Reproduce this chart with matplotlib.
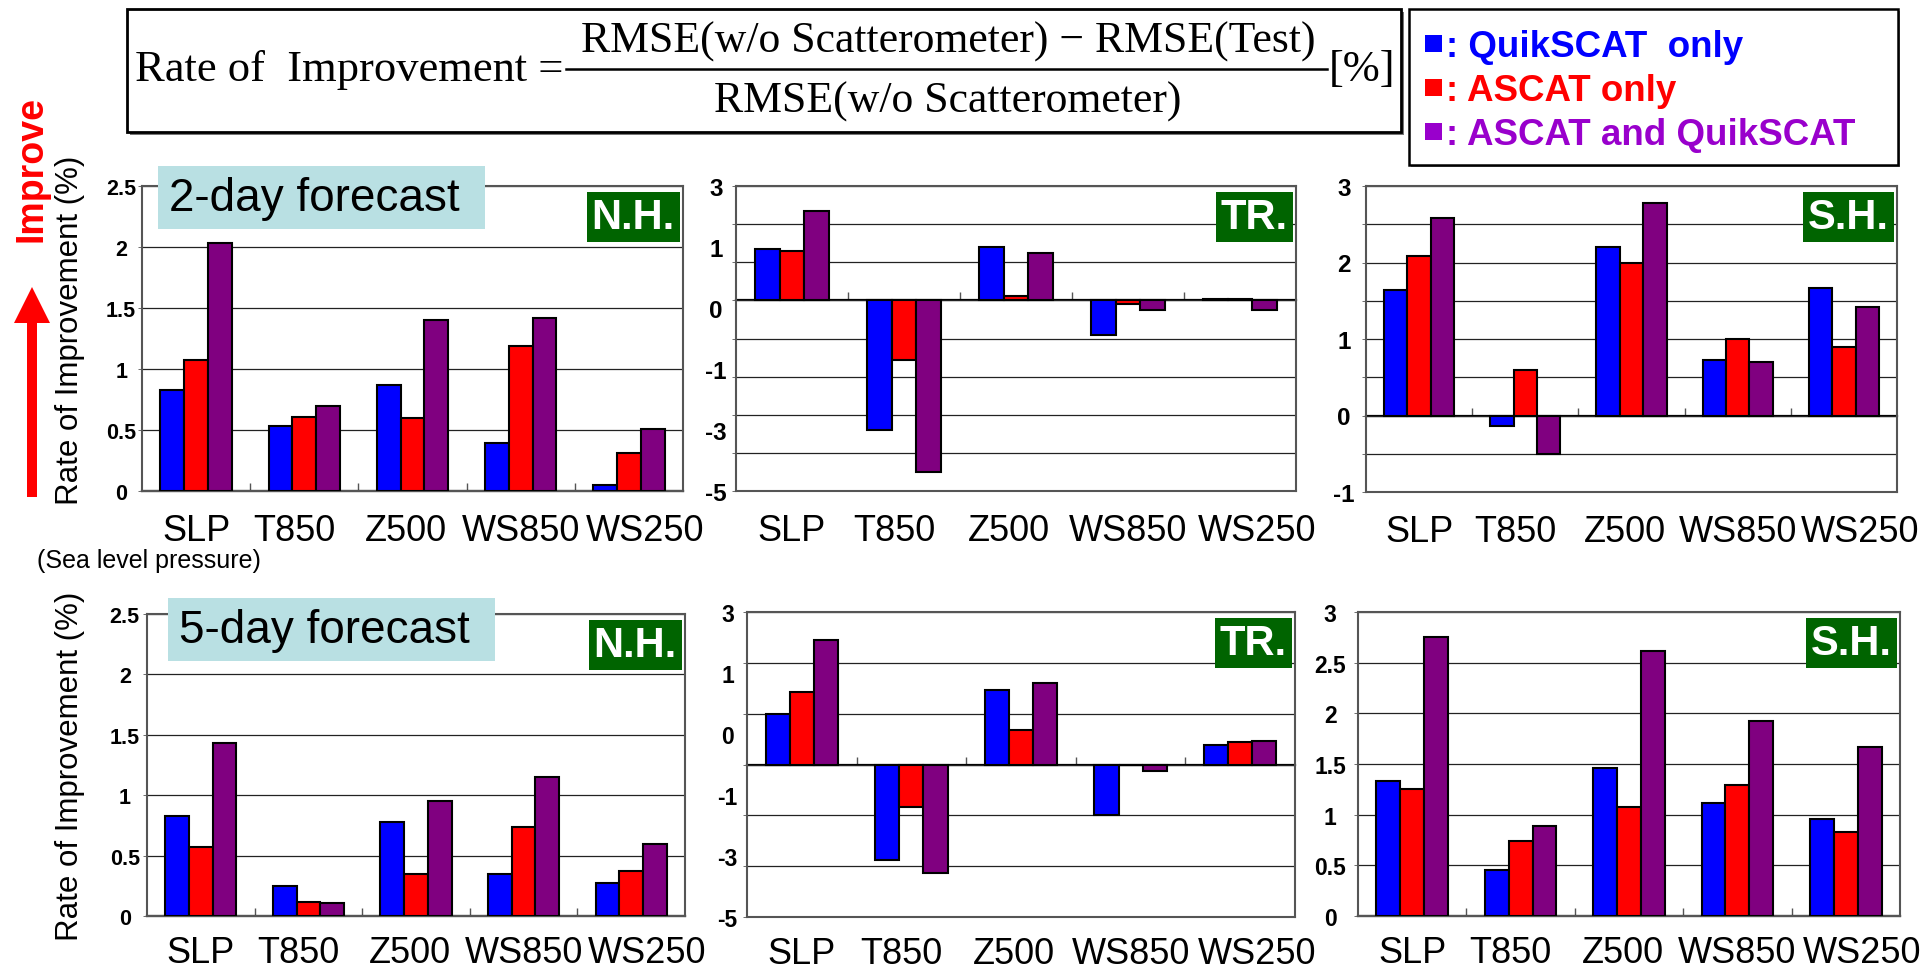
import matplotlib
matplotlib.use('Agg')
import matplotlib.pyplot as plt
from matplotlib.patches import Rectangle, FancyArrow
import numpy as np

plt.rcParams['font.family'] = ['Liberation Sans', 'DejaVu Sans']

categories = ['SLP', 'T850', 'Z500', 'WS850', 'WS250']
series_names = ['QuikSCAT  only', 'ASCAT only', 'ASCAT and QuikSCAT']
bar_colors = ['#0000ff', '#ff0000', '#800080']
legend_colors = ['#0000ff', '#ff0000', '#9900cc']

# 2-day forecast (QuikSCAT only, ASCAT only, ASCAT and QuikSCAT)
nh2_quik = [0.83, 0.53, 0.87, 0.39, 0.05]
nh2_ascat = [1.07, 0.61, 0.60, 1.19, 0.31]
nh2_both = [2.03, 0.70, 1.40, 1.42, 0.51]
tr2_quik = [0.67, -1.70, 0.70, -0.45, 0.02]
tr2_ascat = [0.65, -0.78, 0.06, -0.05, 0.02]
tr2_both = [1.17, -2.25, 0.62, -0.12, -0.12]
sh2_quik = [1.64, -0.14, 2.20, 0.73, 1.67]
sh2_ascat = [2.09, 0.59, 2.00, 1.00, 0.89]
sh2_both = [2.58, -0.50, 2.78, 0.70, 1.42]

# 5-day forecast
nh5_quik = [0.83, 0.25, 0.78, 0.35, 0.27]
nh5_ascat = [0.57, 0.12, 0.35, 0.74, 0.37]
nh5_both = [1.43, 0.11, 0.95, 1.15, 0.60]
tr5_quik = [0.50, -0.94, 0.73, -0.50, 0.19]
tr5_ascat = [0.71, -0.42, 0.34, 0.0, 0.22]
tr5_both = [1.22, -1.07, 0.80, -0.06, 0.23]
sh5_quik = [1.33, 0.45, 1.46, 1.12, 0.96]
sh5_ascat = [1.25, 0.74, 1.08, 1.29, 0.83]
sh5_both = [2.75, 0.89, 2.62, 1.92, 1.67]

# tick labels as printed in the figure
nh_ticks = [0, 0.5, 1, 1.5, 2, 2.5]
nh_labels = ['0', '0.5', '1', '1.5', '2', '2.5']
tr_labels = ['3', '1', '0', '-1', '-3', '-5']
tr2_ticks = [1.5, 0.7, -0.1, -0.9, -1.7, -2.5]
tr5_ticks = [1.5, 0.9, 0.3, -0.3, -0.9, -1.5]
sh2_ticks = [-1, 0, 1, 2, 3]
sh2_labels = ['-1', '0', '1', '2', '3']
sh5_ticks = [0, 0.5, 1, 1.5, 2, 2.5, 3]
sh5_labels = ['0', '0.5', '1', '1.5', '2', '2.5', '3']

# category labels are nudged a little, as in the original layout
label_shift = [0.0, -0.09, -0.06, 0.0, 0.15]

W, H = 1930, 970
fig = plt.figure(figsize=(W / 100, H / 100), dpi=100)


def add_panel(box):
    l, t, r, b = box
    return fig.add_axes([l / W, 1 - b / H, (r - l) / W, (b - t) / H])


def draw_panel(ax, values, ylim, step, tick_pos, tick_labels, region, tick_size, lab_pad, x_pad):
    x = np.arange(len(categories))
    w = 0.22
    for i, vals in enumerate(values):
        ax.bar(x + (i - 1) * w, vals, width=w, color=bar_colors[i],
               edgecolor='black', linewidth=1.5, zorder=3)
    ax.set_xlim(-0.5, len(categories) - 0.5)
    ax.set_ylim(*ylim)

    # printed labels on major ticks, gridlines on minor ticks
    ax.yaxis.remove_overlapping_locs = False
    ax.set_yticks(tick_pos, labels=tick_labels, fontweight='bold', fontsize=tick_size,
                  ha='center')
    ax.tick_params(axis='y', which='major', length=0, pad=lab_pad)
    ax.set_yticks(np.arange(ylim[0], ylim[1] + step / 2, step), minor=True)
    ax.yaxis.grid(True, which='minor', color='#222222', linewidth=0.9, zorder=0)
    ax.tick_params(axis='y', which='minor', length=3, color='#555555')

    ax.set_xticks(x + np.array(label_shift), labels=categories)
    ax.tick_params(axis='x', length=0, pad=x_pad, labelsize=26)
    ax.set_axisbelow(True)
    for sp in ax.spines.values():
        sp.set_color('#555555')
        sp.set_linewidth(1.5)

    # category axis crossing at zero with small boundary ticks
    sec = ax.secondary_xaxis(0, transform=ax.transData)
    sec.set_xticks(x[:-1] + 0.5)
    sec.tick_params(direction='in', length=6, width=1, color='#555555', labelbottom=False)
    sec.spines['bottom'].set_color('black')
    sec.spines['bottom'].set_linewidth(1.6)

    ax.annotate(region, xy=(1, 1), xycoords='axes fraction', xytext=(-8, -11),
                textcoords='offset pixels', ha='right', va='top', color='white',
                fontsize=30, fontweight='bold', zorder=6,
                bbox=dict(boxstyle='square,pad=0.12', fc='#006400', ec='none'))


panels = [
    ((142, 187, 683, 492), [nh2_quik, nh2_ascat, nh2_both], (0, 2.5), 0.5,
     nh_ticks, nh_labels, 'N.H.', 15.5, 15, 15.5),
    ((736, 187, 1296, 492), [tr2_quik, tr2_ascat, tr2_both], (-2.5, 1.5), 0.5,
     tr2_ticks, tr_labels, 'TR.', 17.5, 14.5, 15.5),
    ((1366, 187, 1897, 493), [sh2_quik, sh2_ascat, sh2_both], (-1, 3), 0.5,
     sh2_ticks, sh2_labels, 'S.H.', 17.5, 16, 15.5),
    ((147, 615, 685, 917), [nh5_quik, nh5_ascat, nh5_both], (0, 2.5), 0.5,
     nh_ticks, nh_labels, 'N.H.', 15.5, 16, 14),
    ((747, 613, 1295, 918), [tr5_quik, tr5_ascat, tr5_both], (-1.5, 1.5), 0.5,
     tr5_ticks, tr_labels, 'TR.', 16.5, 14, 14),
    ((1358, 613, 1900, 917), [sh5_quik, sh5_ascat, sh5_both], (0, 3), 0.5,
     sh5_ticks, sh5_labels, 'S.H.', 16.5, 20, 14),
]

for box, vals, ylim, step, tpos, tlab, region, tsize, lpad, xpad in panels:
    ax = add_panel(box)
    draw_panel(ax, vals, ylim, step, tpos, tlab, region, tsize, lpad, xpad)

# overlay in pixel coordinates for the annotations
ov = fig.add_axes([0, 0, 1, 1])
ov.set_xlim(0, W)
ov.set_ylim(H, 0)
ov.axis('off')
ov.set_zorder(10)

# formula box
ov.add_patch(Rectangle((130, 13), 1274, 123, fc='#777777', ec='none'))
ov.add_patch(Rectangle((127, 10), 1274, 123, fc='white', ec='black', lw=2))
serif = 'Liberation Serif'
ov.text(135, 70, 'Rate of  Improvement =', family=serif, fontsize=32, ha='left', va='center')
ov.plot([566, 1327], [70, 70], color='black', lw=1.8)
ov.text(948, 42, 'RMSE(w/o Scatterometer) \u2212 RMSE(Test)', family=serif, fontsize=31.5,
        ha='center', va='center')
ov.text(948, 102, 'RMSE(w/o Scatterometer)', family=serif, fontsize=31.5, ha='center', va='center')
ov.text(1329, 70, '[%]', family=serif, fontsize=32, ha='left', va='center')

# legend box
ov.add_patch(Rectangle((1411, 12), 489, 156, fc='#888888', ec='none'))
ov.add_patch(Rectangle((1409, 10), 489, 156, fc='white', ec='black', lw=1.8))
for i, (name, col) in enumerate(zip(series_names, legend_colors)):
    yc = 44 + i * 44
    ov.add_patch(Rectangle((1425, yc - 8), 17, 17, fc=col, ec='none'))
    ov.text(1446, yc + 13, ': ' + name, color=col, fontsize=26.5, fontweight='bold',
            ha='left', va='baseline')

# forecast labels
ov.add_patch(Rectangle((158, 167), 327, 63, fc='#b9e0e3', ec='none'))
ov.text(169, 199, '2-day forecast', fontsize=33, ha='left', va='center')
ov.add_patch(Rectangle((168, 599), 327, 63, fc='#b9e0e3', ec='none'))
ov.text(179, 631, '5-day forecast', fontsize=33, ha='left', va='center')

# improve arrow and axis titles
ov.add_patch(FancyArrow(32, 498, 0, -210, width=10, head_width=36, head_length=36,
                        length_includes_head=True, color='red', lw=0))
ov.text(31, 169, 'Improve', color='red', fontsize=27, fontweight='bold', rotation=90,
        ha='center', va='center')
ov.text(70, 330, 'Rate of Improvement (%)', fontsize=22.5, rotation=90, ha='center', va='center')
ov.text(70, 766, 'Rate of Improvement (%)', fontsize=22.5, rotation=90, ha='center', va='center')
ov.text(37, 568, '(Sea level pressure)', fontsize=18, ha='left', va='baseline')

fig.savefig('out.png', dpi=100, facecolor='white')
